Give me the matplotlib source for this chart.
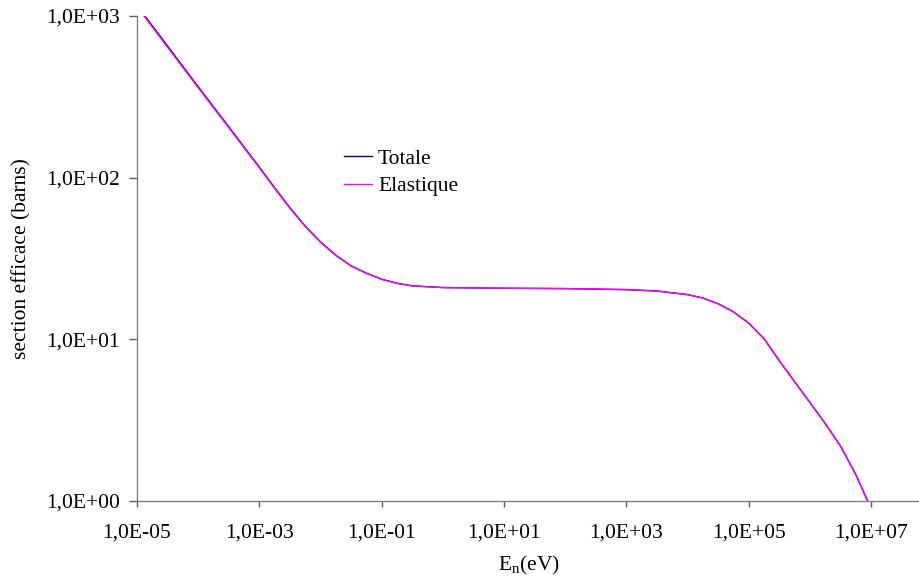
import numpy as np
import matplotlib
matplotlib.use("Agg")
from matplotlib import pyplot as plt
from matplotlib.ticker import FixedLocator, FuncFormatter, NullLocator

# energies (eV) and cross sections (barns)
energy = [1.3e-5, 3.16e-5, 1e-4, 3.16e-4, 1e-3, 1.78e-3, 3.16e-3, 5.62e-3,
          1e-2, 1.78e-2, 3.16e-2, 5.62e-2, 0.1, 0.178, 0.316, 1, 10, 100,
          1e3, 3.16e3, 1e4, 1.78e4, 3.16e4, 5.62e4, 1e5, 1.78e5, 3.16e5,
          5.62e5, 1e6, 1.78e6, 3.16e6, 5.62e6, 8.8e6]
elastique = [1000, 641, 360, 204, 115, 85.8, 64.7, 49.9,
             39.9, 33.0, 28.4, 25.6, 23.5, 22.2, 21.4, 20.9, 20.7, 20.6,
             20.3, 19.9, 18.9, 18.0, 16.6, 14.8, 12.6, 10.1, 7.38,
             5.47, 4.07, 3.02, 2.19, 1.46, 1.0]
totale = [1018, 652, 365, 206.5, 116.2, 86.6, 65.2, 50.2,
          40.1, 33.15, 28.5, 25.66, 23.55, 22.23, 21.42, 20.91, 20.7, 20.6,
          20.3, 19.9, 18.9, 18.0, 16.6, 14.8, 12.6, 10.1, 7.38,
          5.47, 4.07, 3.02, 2.19, 1.46, 1.0]

x_ticks = [1e-5, 1e-3, 1e-1, 1e1, 1e3, 1e5, 1e7]
y_ticks = [1, 10, 100, 1000]

plt.rcParams['font.family'] = ['Liberation Serif', 'DejaVu Serif']
plt.rcParams['mathtext.fontset'] = 'custom'
plt.rcParams['mathtext.rm'] = 'Liberation Serif'
plt.rcParams['mathtext.it'] = 'Liberation Serif:italic'
fs = 15.5


def sci_label(v, pos):
	e = int(round(np.log10(v)))
	return "1,0E%+03d" % e


fig = plt.figure(figsize=(9.2, 5.83), dpi=100)
ax = fig.add_axes([137 / 920, 1 - 501 / 583, 1 - 137 / 920, (501 - 16) / 583])

ax.plot(energy, totale, color='#000080', linewidth=1.0, label='Totale')
ax.plot(energy, elastique, color='#FF00FF', linewidth=1.0, label='Elastique')

ax.set_xscale('log')
ax.set_yscale('log')
ax.set_xlim(1e-5, 10 ** 7.8)
ax.set_ylim(1, 1000)

ax.xaxis.set_major_locator(FixedLocator(x_ticks))
ax.yaxis.set_major_locator(FixedLocator(y_ticks))
ax.xaxis.set_minor_locator(NullLocator())
ax.yaxis.set_minor_locator(NullLocator())
ax.xaxis.set_major_formatter(FuncFormatter(sci_label))
ax.yaxis.set_major_formatter(FuncFormatter(sci_label))

for side in ['top', 'right']:
	ax.spines[side].set_visible(False)
for side in ['left', 'bottom']:
	ax.spines[side].set_color('#808080')
	ax.spines[side].set_linewidth(1.0)

ax.tick_params(axis='x', direction='out', length=4.5, width=1.0, color='#606060',
               pad=12, labelsize=fs)
ax.tick_params(axis='y', direction='out', length=5.5, width=1.0, color='#606060',
               pad=7, labelsize=fs)

ax.set_xlabel(r'$\mathregular{E_n}$(eV)', fontsize=fs, labelpad=8)
ax.set_ylabel('section efficace (barns)', fontsize=fs, labelpad=10)

leg = ax.legend(loc='upper left', bbox_to_anchor=((335 - 137) / 783, 1 - (140 - 16) / 485),
                frameon=False, fontsize=fs, handlelength=1.3, handletextpad=0.3,
                labelspacing=0.35, borderaxespad=0)

fig.savefig('out.png', dpi=100)
